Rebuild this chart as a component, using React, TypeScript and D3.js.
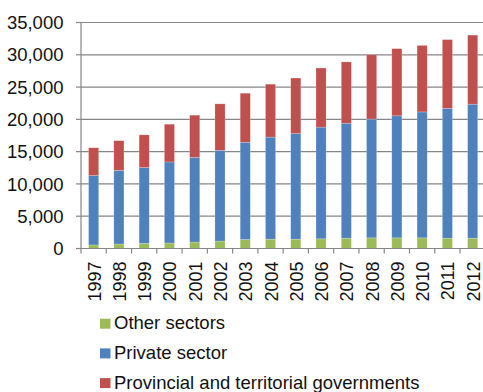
import React from "react";
import * as d3 from "d3";

const years = ["1997","1998","1999","2000","2001","2002","2003","2004","2005","2006","2007","2008","2009","2010","2011","2012"];
const otherSectors = [550,700,800,850,1000,1150,1400,1450,1450,1500,1600,1650,1650,1650,1600,1600];
const privateSector = [10750,11400,11750,12550,13100,14050,15050,15800,16350,17300,17800,18400,18900,19500,20100,20750];
const provincialGov = [4300,4600,5050,5850,6550,7200,7600,8200,8600,9150,9500,9950,10400,10300,10650,10700];
const yTicks = [0,5000,10000,15000,20000,25000,30000,35000];

const seriesNames = ["Other sectors","Private sector","Provincial and territorial governments"];
const colors = ["#9BBB59","#4F81BD","#C0504D"];

export default function App() {
  const W = 483, H = 392;
  const x = d3.scaleBand<string>().domain(years).range([81, 485.3]).paddingInner(0.6).paddingOuter(0.3);
  const y = d3.scaleLinear().domain([0, 35000]).range([248.5, 22.5]);
  const rows = years.map((yr, i) => ({ year: yr, other: otherSectors[i], priv: privateSector[i], prov: provincialGov[i] }));
  const stack = d3.stack<any>().keys(["other","priv","prov"]);
  const series = stack(rows);
  const fmt = d3.format(",");
  const gap = (x.step() - x.bandwidth()) / 2;
  const boundaries = years.map(d => (x(d) as number) - gap).concat([(x(years[years.length-1]) as number) + x.bandwidth() + gap]);
  const font = "'Liberation Sans', Arial, sans-serif";
  return (
    <svg width={W} height={H} style={{ position: "absolute", left: 0, top: 0, background: "#fff" }} fontFamily={font}>
      {yTicks.map(t => (
        <g key={t}>
          {t > 0 && <line x1={81} x2={W} y1={y(t)} y2={y(t)} stroke="#868686" strokeWidth={1.2} />}
          <line x1={76} x2={81} y1={y(t)} y2={y(t)} stroke="#868686" strokeWidth={1.2} />
          <text x={63.5} y={y(t)} dy="0.36em" textAnchor="end" fontSize={18.5} fill="#111">{fmt(t)}</text>
        </g>
      ))}
      {series.map((s, si) => (
        <g key={si} fill={colors[si]}>
          {s.map((d, i) => (
            <rect key={i} x={x(years[i])} width={x.bandwidth()} y={y(d[1])} height={y(d[0]) - y(d[1])} stroke="rgba(255,255,255,0.35)" strokeWidth={0.6} />
          ))}
        </g>
      ))}
      <line x1={81} x2={81} y1={y(35000)} y2={y(0)} stroke="#868686" strokeWidth={1.2} />
      <line x1={81} x2={W} y1={y(0)} y2={y(0)} stroke="#868686" strokeWidth={1.2} />
      {boundaries.map((b, i) => (
        <line key={i} x1={b} x2={b} y1={y(0)} y2={y(0) + 5} stroke="#868686" strokeWidth={1.2} />
      ))}
      {years.map(yr => {
        const cx = (x(yr) as number) + x.bandwidth() / 2 + 0.5;
        return (
          <text key={yr} transform={`translate(${cx},261.5) rotate(-90)`} textAnchor="end" dy="0.36em" fontSize={18} fill="#111">{yr}</text>
        );
      })}
      {seriesNames.map((n, i) => (
        <g key={n} transform={`translate(100,${318.7 + i * 29.7})`}>
          <rect x={0} y={0} width={10.5} height={10} fill={colors[i]} />
          <text x={14} y={10.5} fontSize={18.5} fill="#111">{n}</text>
        </g>
      ))}
    </svg>
  );
}
